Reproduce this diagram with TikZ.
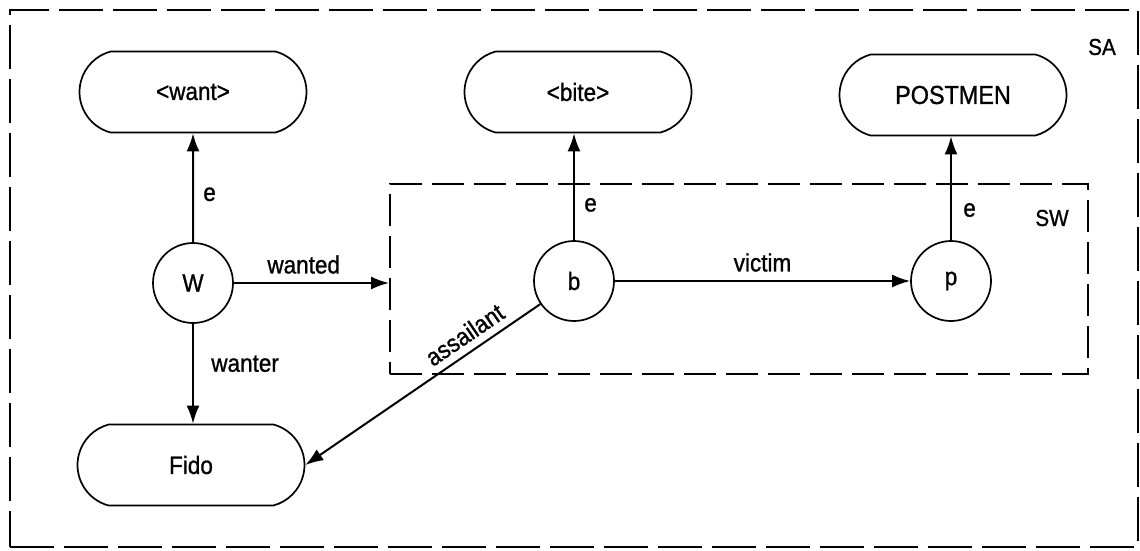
\documentclass[tikz,border=0pt]{standalone}
\usepackage{fontspec}
\setmainfont{Liberation Sans}[FakeStretch=0.9,FakeBold=1]
\usetikzlibrary{arrows.meta,shapes.misc}
\tikzset{
  stad/.style={draw, line width=1.7pt, rounded rectangle, rounded rectangle arc length=150,
    minimum width=227pt, minimum height=81pt, inner sep=0pt,
    font=\fontsize{25}{30}\selectfont},
  circ/.style={draw, line width=1.7pt, circle, minimum size=80pt, inner sep=0pt,
    font=\fontsize{25}{30}\selectfont},
  arr/.style={line width=2pt, -{Latex[length=18pt,width=13pt]}},
  lab/.style={font=\fontsize{25}{30}\selectfont},
  biglab/.style={font=\fontsize{23}{27}\selectfont},
  outerbox/.style={draw, line width=1.9pt, dash pattern=on 44pt off 10pt, inner sep=0pt},
  innerbox/.style={draw, line width=1.9pt, dash pattern=on 32pt off 10pt, inner sep=0pt}
}
\begin{document}
\begin{tikzpicture}[x=1pt,y=-1pt]
\useasboundingbox (0,0) rectangle (1140,550);
% frames
\node[outerbox, minimum width=1128pt, minimum height=537pt] (SAbox) at (574,278.5) {};
\node[innerbox, minimum width=698pt, minimum height=190pt] (SWbox) at (739,279) {};
\node[biglab] (SA) at (1102,47) {SA};
\node[biglab] (SWl) at (1052,218) {SW};
% nodes
\node[stad] (want) at (193,92) {<want>};
\node[stad] (bite) at (578,92) {<bite>};
\node[stad, font=\fontsize{26}{30}\selectfont] (post) at (953,95) {POSTMEN};
\node[stad] (fido) at (191,465) {Fido};
\node[circ] (W) at (193,283) {W};
\node[circ] (b) at (574,281) {b};
\node[circ] (p) at (951,281) {p};
% connectors
\draw[arr] (W) -- node[lab, right=6pt, pos=0.44] {e} (want);
\draw[arr] (b) -- node[lab, right=6pt, pos=0.33] {e} (b |- bite.south);
\draw[arr] (p) -- node[lab, right=8pt, pos=0.29] {e} (p |- post.south);
\draw[arr] (W) -- node[lab, above=5pt, pos=0.45] {wanted} (W -| SWbox.west);
\draw[arr] (W) -- node[lab, right=14pt, pos=0.4] {wanter} (W |- fido.north);
\draw[arr] (b) -- node[lab, above=5pt, pos=0.5] {victim} (p);
\draw[arr, {Latex[length=18pt,width=13pt]}-] (fido.east) -- node[lab, sloped, above=4pt, pos=0.72] {assailant} (b);
\end{tikzpicture}
\end{document}
